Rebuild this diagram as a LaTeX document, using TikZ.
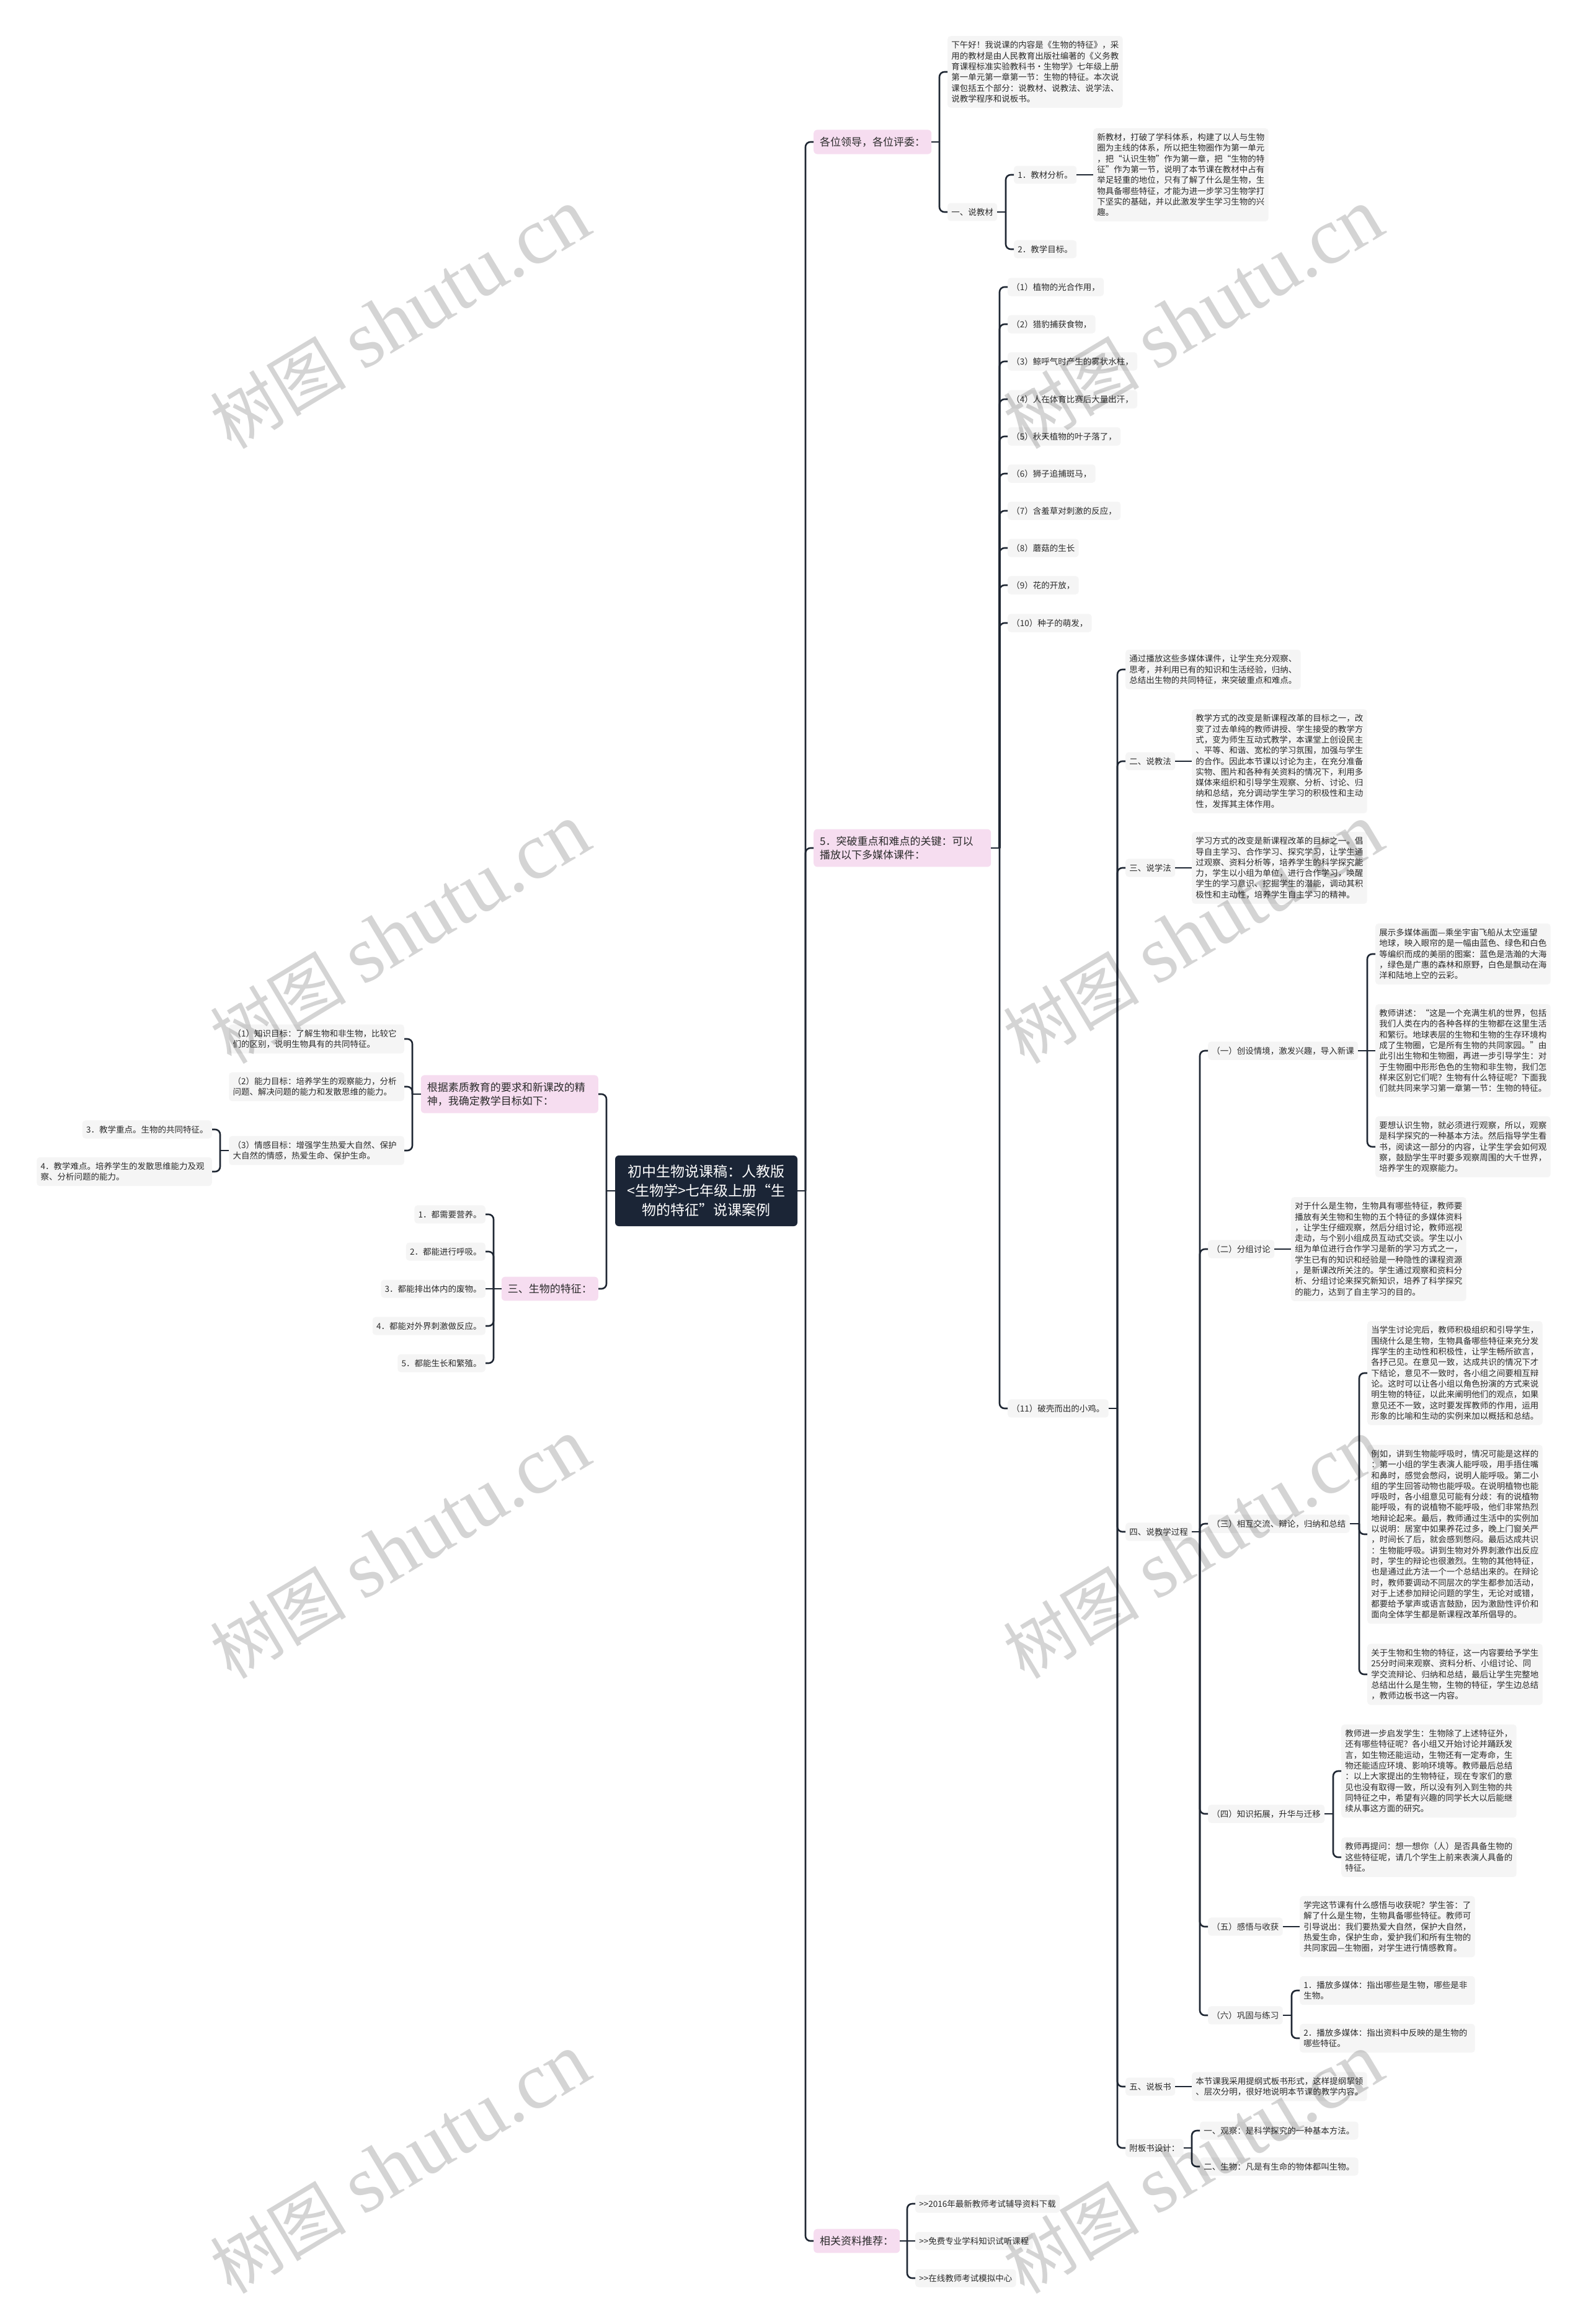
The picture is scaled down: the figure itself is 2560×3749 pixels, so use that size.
\documentclass[tikz,border=0pt]{standalone}
\usepackage{fontspec}
\setmainfont{Noto Sans CJK SC}
\newfontfamily\wmlatin{Liberation Serif}
\usetikzlibrary{calc}
\definecolor{linec}{HTML}{1F2733}
\definecolor{pinkc}{HTML}{F6DDF0}
\definecolor{leafc}{HTML}{F5F5F5}
\definecolor{rootc}{HTML}{1B2536}
\definecolor{textc}{HTML}{2B2B2B}
\newcommand\connR[2]{%
  \path (#2.west) ++(-13pt,0) coordinate (tmpv);
  \draw[conn] (#1.east) -- (tmpv |- #1.east);
  \draw[conn] (tmpv |- #1.east) |- (#2.west);}
\newcommand\connL[2]{%
  \path (#2.east) ++(13pt,0) coordinate (tmpv);
  \draw[conn] (#1.west) -- (tmpv |- #1.west);
  \draw[conn] (tmpv |- #1.west) |- (#2.east);}
\newcommand\connS[2]{\draw[conn] (#1.east) -- (#2.west);}
\newcommand\connSL[2]{\draw[conn] (#1.west) -- (#2.east);}
\begin{document}
\begin{tikzpicture}[x=1pt,y=-1pt,
  conn/.style={draw=linec,line width=2.6pt,rounded corners=8pt},
  leaf/.style={fill=leafc,rounded corners=5pt,text=textc,inner xsep=6.25pt,inner ysep=8.25pt,font=\fontsize{13.5}{17.3}\selectfont,align=left},
  para/.style={leaf,text width=270pt},
  pink/.style={fill=pinkc,rounded corners=6pt,text=textc,inner xsep=10pt,inner ysep=11.5pt,font=\fontsize{17}{22}\selectfont,align=left},
  pinkw/.style={pink,text width=266pt},
  rootbox/.style={fill=rootc,rounded corners=6pt,text=white,font=\fontsize{23}{31}\selectfont,align=center,minimum width=294pt,minimum height=114pt},
  wm/.style={text=black,text opacity=0.17,rotate=31,font=\fontsize{110}{110}\selectfont,inner sep=0pt}
]
\fill[white] (0,0) rectangle (2560,3749);
\useasboundingbox (0,0) rectangle (2560,3749);

% root
\node[rootbox] (root) at (1139,1921) {初中生物说课稿：人教版\\<生物学>七年级上册“生\\物的特征”说课案例};

% ---------- right: A
\node[pink,anchor=west] (a) at (1312,229) {各位领导，各位评委：};
\node[para,anchor=west] (aintro) at (1528,116) {下午好！我说课的内容是《生物的特征》，采\\用的教材是由人民教育出版社编著的《义务教\\育课程标准实验教科书•生物学》七年级上册\\第一单元第一章第一节：生物的特征。本次说\\课包括五个部分：说教材、说教法、说学法、\\说教学程序和说板书。};
\node[leaf,anchor=west] (ajc) at (1528,342) {一、说教材};
\node[leaf,anchor=west] (ajcfx) at (1635,282) {1．教材分析。};
\node[para,anchor=west] (ajcfxp) at (1763,282) {新教材，打破了学科体系，构建了以人与生物\\圈为主线的体系，所以把生物圈作为第一单元\\，把“认识生物”作为第一章，把“生物的特\\征”作为第一节，说明了本节课在教材中占有\\举足轻重的地位，只有了解了什么是生物，生\\物具备哪些特征，才能为进一步学习生物学打\\下坚实的基础，并以此激发学生学习生物的兴\\趣。};
\node[leaf,anchor=west] (ajxmb) at (1635,402) {2．教学目标。};

% ---------- right: B
\node[pinkw,anchor=west] (b) at (1312,1368) {5．突破重点和难点的关键：可以\\播放以下多媒体课件：};
\node[leaf,anchor=west] (b1) at (1625,463) {（1）植物的光合作用，};
\node[leaf,anchor=west] (b2) at (1625,523) {（2）猎豹捕获食物，};
\node[leaf,anchor=west] (b3) at (1625,583) {（3）鲸呼气时产生的雾状水柱，};
\node[leaf,anchor=west] (b4) at (1625,644) {（4）人在体育比赛后大量出汗，};
\node[leaf,anchor=west] (b5) at (1625,704) {（5）秋天植物的叶子落了，};
\node[leaf,anchor=west] (b6) at (1625,764) {（6）狮子追捕斑马，};
\node[leaf,anchor=west] (b7) at (1625,824) {（7）含羞草对刺激的反应，};
\node[leaf,anchor=west] (b8) at (1625,884) {（8）蘑菇的生长};
\node[leaf,anchor=west] (b9) at (1625,944) {（9）花的开放，};
\node[leaf,anchor=west] (b10) at (1625,1005) {（10）种子的萌发，};
\node[leaf,anchor=west] (b11) at (1625,2272) {（11）破壳而出的小鸡。};

\node[para,anchor=west] (t0) at (1815,1080) {通过播放这些多媒体课件，让学生充分观察、\\思考，并利用已有的知识和生活经验，归纳、\\总结出生物的共同特征，来突破重点和难点。};
\node[leaf,anchor=west] (t2) at (1815,1228) {二、说教法};
\node[para,anchor=west] (t2p) at (1922,1228) {教学方式的改变是新课程改革的目标之一，改\\变了过去单纯的教师讲授、学生接受的教学方\\式，变为师生互动式教学，本课堂上创设民主\\、平等、和谐、宽松的学习氛围，加强与学生\\的合作。因此本节课以讨论为主，在充分准备\\实物、图片和各种有关资料的情况下，利用多\\媒体来组织和引导学生观察、分析、讨论、归\\纳和总结，充分调动学生学习的积极性和主动\\性，发挥其主体作用。};
\node[leaf,anchor=west] (t3) at (1815,1400) {三、说学法};
\node[para,anchor=west] (t3p) at (1922,1400) {学习方式的改变是新课程改革的目标之一。倡\\导自主学习、合作学习、探究学习，让学生通\\过观察、资料分析等，培养学生的科学探究能\\力，学生以小组为单位，进行合作学习，唤醒\\学生的学习意识、挖掘学生的潜能，调动其积\\极性和主动性，培养学生自主学习的精神。};
\node[leaf,anchor=west] (t4) at (1815,2471) {四、说教学过程};

\node[leaf,anchor=west] (s1) at (1948,1695) {（一）创设情境，激发兴趣，导入新课};
\node[para,anchor=west] (s1a) at (2218,1539) {展示多媒体画面—乘坐宇宙飞船从太空遥望\\地球，映入眼帘的是一幅由蓝色、绿色和白色\\等编织而成的美丽的图案：蓝色是浩瀚的大海\\，绿色是广惠的森林和原野，白色是飘动在海\\洋和陆地上空的云彩。};
\node[para,anchor=west] (s1b) at (2218,1695) {教师讲述：“这是一个充满生机的世界，包括\\我们人类在内的各种各样的生物都在这里生活\\和繁衍。地球表层的生物和生物的生存环境构\\成了生物圈，它是所有生物的共同家园。”由\\此引出生物和生物圈，再进一步引导学生：对\\于生物圈中形形色色的生物和非生物，我们怎\\样来区别它们呢？生物有什么特征呢？下面我\\们就共同来学习第一章第一节：生物的特征。};
\node[para,anchor=west] (s1c) at (2218,1850) {要想认识生物，就必须进行观察，所以，观察\\是科学探究的一种基本方法。然后指导学生看\\书，阅读这一部分的内容，让学生学会如何观\\察，鼓励学生平时要多观察周围的大千世界，\\培养学生的观察能力。};

\node[leaf,anchor=west] (s2) at (1948,2015) {（二）分组讨论};
\node[para,anchor=west] (s2p) at (2082,2015) {对于什么是生物，生物具有哪些特征，教师要\\播放有关生物和生物的五个特征的多媒体资料\\，让学生仔细观察，然后分组讨论，教师巡视\\走动，与个别小组成员互动式交谈。学生以小\\组为单位进行合作学习是新的学习方式之一，\\学生已有的知识和经验是一种隐性的课程资源\\，是新课改所关注的。学生通过观察和资料分\\析、分组讨论来探究新知识，培养了科学探究\\的能力，达到了自主学习的目的。};

\node[leaf,anchor=west] (s3) at (1948,2458) {（三）相互交流、辩论，归纳和总结};
\node[para,anchor=west] (s3a) at (2205,2215) {当学生讨论完后，教师积极组织和引导学生，\\围绕什么是生物，生物具备哪些特征来充分发\\挥学生的主动性和积极性，让学生畅所欲言，\\各抒己见。在意见一致，达成共识的情况下才\\下结论，意见不一致时，各小组之间要相互辩\\论。这时可以让各小组以角色扮演的方式来说\\明生物的特征，以此来阐明他们的观点，如果\\意见还不一致，这时要发挥教师的作用，运用\\形象的比喻和生动的实例来加以概括和总结。};
\node[para,anchor=west] (s3b) at (2205,2475) {例如，讲到生物能呼吸时，情况可能是这样的\\：第一小组的学生表演人能呼吸，用手捂住嘴\\和鼻时，感觉会憋闷，说明人能呼吸。第二小\\组的学生回答动物也能呼吸。在说明植物也能\\呼吸时，各小组意见可能有分歧：有的说植物\\能呼吸，有的说植物不能呼吸，他们非常热烈\\地辩论起来。最后，教师通过生活中的实例加\\以说明：居室中如果养花过多，晚上门窗关严\\，时间长了后，就会感到憋闷。最后达成共识\\：生物能呼吸。讲到生物对外界刺激作出反应\\时，学生的辩论也很激烈。生物的其他特征，\\也是通过此方法一个一个总结出来的。在辩论\\时，教师要调动不同层次的学生都参加活动，\\对于上述参加辩论问题的学生，无论对或错，\\都要给予掌声或语言鼓励，因为激励性评价和\\面向全体学生都是新课程改革所倡导的。};
\node[para,anchor=west] (s3c) at (2205,2701) {关于生物和生物的特征，这一内容要给予学生\\25分时间来观察、资料分析、小组讨论、同\\学交流辩论、归纳和总结，最后让学生完整地\\总结出什么是生物，生物的特征，学生边总结\\，教师边板书这一内容。};

\node[leaf,anchor=west] (s4) at (1948,2926) {（四）知识拓展，升华与迁移};
\node[para,anchor=west] (s4a) at (2163,2857) {教师进一步启发学生：生物除了上述特征外，\\还有哪些特征呢？各小组又开始讨论并踊跃发\\言，如生物还能运动，生物还有一定寿命，生\\物还能适应环境、影响环境等。教师最后总结\\：以上大家提出的生物特征，现在专家们的意\\见也没有取得一致，所以没有列入到生物的共\\同特征之中，希望有兴趣的同学长大以后能继\\续从事这方面的研究。};
\node[para,anchor=west] (s4b) at (2163,2996) {教师再提问：想一想你（人）是否具备生物的\\这些特征呢，请几个学生上前来表演人具备的\\特征。};

\node[leaf,anchor=west] (s5) at (1948,3108) {（五）感悟与收获};
\node[para,anchor=west] (s5p) at (2096,3108) {学完这节课有什么感悟与收获呢？学生答：了\\解了什么是生物，生物具备哪些特征。教师可\\引导说出：我们要热爱大自然，保护大自然，\\热爱生命，保护生命，爱护我们和所有生物的\\共同家园—生物圈，对学生进行情感教育。};

\node[leaf,anchor=west] (s6) at (1948,3251) {（六）巩固与练习};
\node[para,anchor=west] (s6a) at (2096,3211) {1．播放多媒体：指出哪些是生物，哪些是非\\生物。};
\node[para,anchor=west] (s6b) at (2096,3288) {2．播放多媒体：指出资料中反映的是生物的\\哪些特征。};

\node[leaf,anchor=west] (t5) at (1815,3366) {五、说板书};
\node[para,anchor=west] (t5p) at (1922,3366) {本节课我采用提纲式板书形式，这样提纲挈领\\、层次分明，很好地说明本节课的教学内容。};
\node[leaf,anchor=west] (t6) at (1815,3465) {附板书设计：};
\node[leaf,anchor=west] (t6a) at (1935,3437) {一、观察：是科学探究的一种基本方法。};
\node[leaf,anchor=west] (t6b) at (1935,3495) {二、生物：凡是有生命的物体都叫生物。};

% ---------- right: C
\node[pink,anchor=west] (c) at (1312,3615) {相关资料推荐：};
\node[leaf,anchor=west] (c1) at (1476,3555) {{>}{>}2016年最新教师考试辅导资料下载};
\node[leaf,anchor=west] (c2) at (1476,3615) {{>}{>}免费专业学科知识试听课程};
\node[leaf,anchor=west] (c3) at (1476,3675) {{>}{>}在线教师考试模拟中心};

% ---------- left
\node[pinkw,anchor=east] (l1) at (965,1765) {根据素质教育的要求和新课改的精\\神，我确定教学目标如下：};
\node[para,anchor=east] (l1a) at (652,1676) {（1）知识目标：了解生物和非生物，比较它\\们的区别，说明生物具有的共同特征。};
\node[para,anchor=east] (l1b) at (652,1753) {（2）能力目标：培养学生的观察能力，分析\\问题、解决问题的能力和发散思维的能力。};
\node[para,anchor=east] (l1c) at (652,1856) {（3）情感目标：增强学生热爱大自然、保护\\大自然的情感，热爱生命、保护生命。};
\node[leaf,anchor=east] (l1c3) at (342,1822) {3．教学重点。生物的共同特征。};
\node[para,anchor=east] (l1c4) at (342,1890) {4．教学难点。培养学生的发散思维能力及观\\察、分析问题的能力。};

\node[pink,anchor=east] (l2) at (965,2079) {三、生物的特征：};
\node[leaf,anchor=east] (l2a) at (783,1959) {1．都需要营养。};
\node[leaf,anchor=east] (l2b) at (783,2019) {2．都能进行呼吸。};
\node[leaf,anchor=east] (l2c) at (783,2079) {3．都能排出体内的废物。};
\node[leaf,anchor=east] (l2d) at (783,2139) {4．都能对外界刺激做反应。};
\node[leaf,anchor=east] (l2e) at (783,2199) {5．都能生长和繁殖。};

% ---------- connectors
\connR{root}{a}\connR{root}{b}\connR{root}{c}
\connL{root}{l1}\connL{root}{l2}
\connR{a}{aintro}\connR{a}{ajc}
\connR{ajc}{ajcfx}\connR{ajc}{ajxmb}\connS{ajcfx}{ajcfxp}
\foreach \i in {1,...,11}{\connR{b}{b\i}}
\connR{b11}{t0}\connR{b11}{t2}\connR{b11}{t3}\connR{b11}{t4}\connR{b11}{t5}\connR{b11}{t6}
\connS{t2}{t2p}\connS{t3}{t3p}
\connR{t4}{s1}\connR{t4}{s2}\connR{t4}{s3}\connR{t4}{s4}\connR{t4}{s5}\connR{t4}{s6}
\connR{s1}{s1a}\connS{s1}{s1b}\connR{s1}{s1c}
\connS{s2}{s2p}
\connR{s3}{s3a}\connR{s3}{s3b}\connR{s3}{s3c}
\connR{s4}{s4a}\connR{s4}{s4b}
\connS{s5}{s5p}
\connR{s6}{s6a}\connR{s6}{s6b}
\connS{t5}{t5p}
\connR{t6}{t6a}\connR{t6}{t6b}
\connR{c}{c1}\connS{c}{c2}\connR{c}{c3}
\connL{l1}{l1a}\connL{l1}{l1b}\connL{l1}{l1c}
\connL{l1c}{l1c3}\connL{l1c}{l1c4}
\connL{l2}{l2a}\connL{l2}{l2b}\connSL{l2}{l2c}\connL{l2}{l2d}\connL{l2}{l2e}

% ---------- watermarks
\foreach \wx in {645,1924}{
  \foreach \wy in {514,1506,2498,3490}{
    \node[wm] at (\wx,\wy) {树图\hspace{0.25em}{\wmlatin\fontsize{130}{130}\selectfont shutu.cn}};
  }
}
\end{tikzpicture}
\end{document}
